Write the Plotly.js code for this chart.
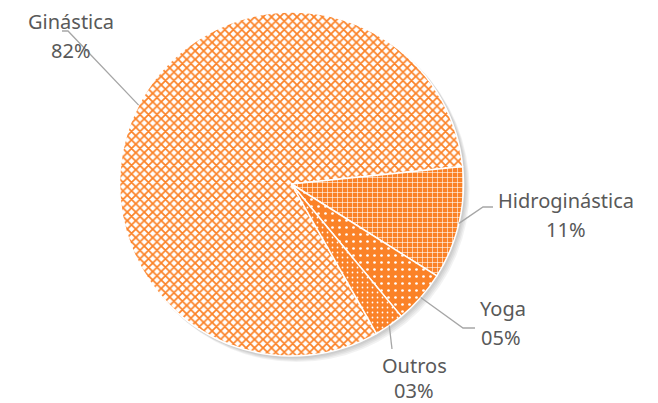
<!DOCTYPE html>
<html>
<head>
<meta charset="utf-8">
<script src="https://cdn.plot.ly/plotly-3.0.1.min.js"></script>
<style>html,body{margin:0;padding:0;background:#fff;}#chart{width:658px;height:403px;}</style>
</head>
<body>
<div id="chart"></div>
<script>
// ---- data ----
var categories = ["Ginástica", "Hidroginástica", "Yoga", "Outros"];
var values = [81.6, 10.6, 5.0, 2.8];
var percentLabels = ["82%", "11%", "05%", "03%"];

// ---- layout / style ----
var W = 658, H = 403;
var CX = 291.5, CY = 184, R = 172;
var ORANGE = "#FB8227";
var startAngle = 150.4; // degrees clockwise from 12 o'clock where first slice starts
var FONT = {family: "'Noto Sans', 'Open Sans', sans-serif", size: 20, color: "#595959"};

var patterns = [
  {shape: "x", fgcolor: ORANGE, bgcolor: "#FFFFFF", size: 6, solidity: 0.5},
  {shape: "+", fgcolor: "#FFFFFF", bgcolor: ORANGE, size: 5, solidity: 0.22},
  {shape: ".", fgcolor: "#FFFFFF", bgcolor: ORANGE, size: 7, solidity: 0.12},
  {shape: ".", fgcolor: "#FFFFFF", bgcolor: ORANGE, size: 5, solidity: 0.1}
];

// label anchor positions (pixels): name centre, percent centre, elbow start, elbow end
var labelPos = [
  {nx: 71, ny: 21, px: 71, py: 50, e1: [62, 31], e2: [68, 31]},
  {nx: 566, ny: 201, px: 566, py: 230, e1: [493, 207], e2: [483, 207]},
  {nx: 503, ny: 308, px: 501, py: 337, e1: [475, 328], e2: [463, 328]},
  {nx: 414, ny: 365, px: 414, py: 390, e1: [392, 349], e2: [392, 349]}
];

function px2x(x) { return x / W; }
function px2y(y) { return 1 - y / H; }

var total = values.reduce(function (a, b) { return a + b; }, 0);
var annotations = [];
var shapes = [];

// soft shadow on the outer edge
for (var s = 0; s < 4; s++) {
  var off = 1 + s * 1.2;
  shapes.push({
    type: "circle", xref: "paper", yref: "paper", layer: "below",
    x0: px2x(CX - R + off), x1: px2x(CX + R + off + 1.5),
    y0: px2y(CY + R + off + 1.5), y1: px2y(CY - R + off),
    line: {width: 0}, fillcolor: "rgba(0,0,0,0.05)"
  });
}

var cum = 0;
for (var i = 0; i < values.length; i++) {
  var mid = startAngle + (cum + values[i] / 2) / total * 360;
  cum += values[i];
  var rad = mid * Math.PI / 180;
  var rx = CX + R * Math.sin(rad);
  var ry = CY - R * Math.cos(rad);
  var lp = labelPos[i];
  shapes.push({
    type: "path", xref: "paper", yref: "paper",
    path: "M" + px2x(lp.e1[0]) + "," + px2y(lp.e1[1]) +
          " L" + px2x(lp.e2[0]) + "," + px2y(lp.e2[1]) +
          " L" + px2x(rx) + "," + px2y(ry),
    line: {color: "#A6A6A6", width: 1.3}
  });
  annotations.push({
    xref: "paper", yref: "paper", x: px2x(lp.nx), y: px2y(lp.ny),
    xanchor: "center", yanchor: "middle", showarrow: false,
    text: categories[i], font: FONT
  });
  annotations.push({
    xref: "paper", yref: "paper", x: px2x(lp.px), y: px2y(lp.py),
    xanchor: "center", yanchor: "middle", showarrow: false,
    text: percentLabels[i], font: FONT
  });
}

var trace = {
  type: "pie",
  labels: categories,
  values: values,
  sort: false,
  direction: "clockwise",
  rotation: startAngle,
  textinfo: "none",
  hoverinfo: "label+percent",
  showlegend: false,
  domain: {x: [px2x(CX - R), px2x(CX + R)], y: [px2y(CY + R), px2y(CY - R)]},
  marker: {
    colors: [ORANGE, ORANGE, ORANGE, ORANGE],
    line: {color: "#FFFFFF", width: 1.5},
    pattern: {
      shape: patterns.map(function (p) { return p.shape; }),
      fgcolor: patterns.map(function (p) { return p.fgcolor; }),
      bgcolor: patterns.map(function (p) { return p.bgcolor; }),
      size: patterns.map(function (p) { return p.size; }),
      solidity: patterns.map(function (p) { return p.solidity; }),
      fillmode: "replace"
    }
  }
};

var layout = {
  width: W, height: H,
  margin: {l: 0, r: 0, t: 0, b: 0},
  paper_bgcolor: "#FFFFFF",
  showlegend: false,
  shapes: shapes,
  annotations: annotations
};

Plotly.newPlot("chart", [trace], layout, {staticPlot: true, displayModeBar: false});
</script>
</body>
</html>
